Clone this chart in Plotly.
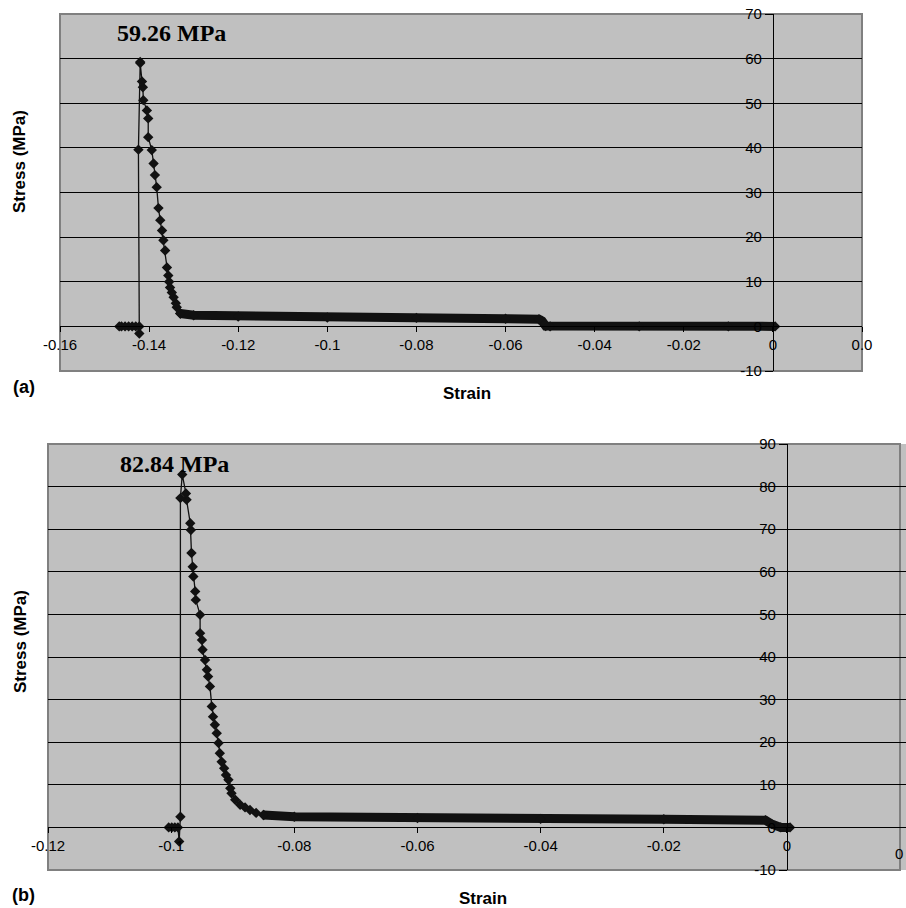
import plotly.graph_objects as go

W, H = 906, 908

# ---------------- data: panel (a) ----------------
a_band_strain = [0.0005, -0.0100, -0.0300, -0.0500, -0.0510, -0.0518, -0.0525,
                 -0.0600, -0.0800, -0.1000, -0.1200, -0.1300, -0.1330]
a_band_stress = [0.0, 0.0, 0.0, 0.0, 0.1, 1.2, 1.6,
                 1.7, 1.9, 2.0, 2.2, 2.5, 2.9]
a_rise_strain = [-0.1330, -0.1338, -0.1340, -0.1345, -0.1349, -0.1353, -0.1355, -0.1357,
                 -0.1360, -0.1364, -0.1368, -0.1371, -0.1375, -0.1379, -0.1383, -0.1387,
                 -0.1390, -0.1394, -0.1402, -0.1402, -0.1405, -0.1413, -0.1414, -0.1416,
                 -0.1420, -0.1420, -0.1424, -0.1422, -0.1422, -0.1430, -0.1438, -0.1446,
                 -0.1454, -0.1462, -0.1467]
a_rise_stress = [2.9, 4.3, 5.2, 6.5, 7.6, 8.7, 10.0, 11.4,
                 13.2, 17.0, 19.3, 21.5, 23.8, 26.5, 31.2, 33.9,
                 36.5, 39.5, 42.4, 46.6, 48.4, 50.7, 53.6, 54.9,
                 59.0, 59.26, 39.6, -1.6, 0.0, 0.0, 0.0, 0.0,
                 0.0, 0.0, 0.0]
a_peak = 59.26
a_peak_strain = -0.1420
a_xticks = [-0.16, -0.14, -0.12, -0.10, -0.08, -0.06, -0.04, -0.02, 0.0, 0.02]
a_xticktext = ["-0.16", "-0.14", "-0.12", "-0.1", "-0.08", "-0.06", "-0.04", "-0.02", "0", "0.0"]
a_yticks = [-10, 0, 10, 20, 30, 40, 50, 60, 70]
a_yticktext = ["-10", "0", "10", "20", "30", "40", "50", "60", "70"]

# ---------------- data: panel (b) ----------------
b_band_strain = [0.0005, -0.0010, -0.0025, -0.0035, -0.0200, -0.0400, -0.0600,
                 -0.0800, -0.0850]
b_band_stress = [0.0, 0.0, 0.8, 1.7, 1.9, 2.0, 2.2,
                 2.5, 2.9]
b_rise_strain = [-0.0850, -0.0862, -0.0872, -0.0880, -0.0888, -0.0896, -0.0902, -0.0904,
                 -0.0907, -0.0911, -0.0914, -0.0918, -0.0921, -0.0923, -0.0926, -0.0929,
                 -0.0932, -0.0934, -0.0937, -0.0940, -0.0942, -0.0945, -0.0949, -0.0950,
                 -0.0953, -0.0953, -0.0960, -0.0961, -0.0964, -0.0965, -0.0967, -0.0968,
                 -0.0969, -0.0975, -0.0976, -0.0982, -0.0985, -0.0985, -0.0987, -0.0989,
                 -0.0994, -0.0999, -0.1004]
b_rise_stress = [2.9, 3.4, 4.1, 4.7, 5.3, 6.5, 8.0, 9.2,
                 11.2, 12.3, 13.9, 15.4, 17.4, 19.8, 22.1, 24.1,
                 26.0, 28.4, 33.1, 35.4, 37.0, 39.3, 41.7, 44.0,
                 45.6, 49.9, 53.4, 55.4, 58.9, 61.2, 64.4, 69.8,
                 71.4, 76.9, 78.4, 82.84, 77.3, 2.5, -3.3, 0.0,
                 0.0, 0.0, 0.0]
b_peak = 82.84
b_peak_strain = -0.0982
b_xticks = [-0.12, -0.10, -0.08, -0.06, -0.04, -0.02, 0.0]
b_xticktext = ["-0.12", "-0.1", "-0.08", "-0.06", "-0.04", "-0.02", "0"]
b_yticks = [-10, 0, 10, 20, 30, 40, 50, 60, 70, 80, 90]
b_yticktext = ["-10", "0", "10", "20", "30", "40", "50", "60", "70", "80", "90"]

# ---------------- layout geometry ----------------
a_xdom = [60 / W, 862 / W]
a_ydom = [1 - 371 / H, 1 - 14 / H]
a_xr = [-0.16, 0.02]
a_yr = [-10, 70]

b_xdom = [48 / W, 1.0]
b_xr = [-0.12, -0.12 + (W - 48) / 6158.0]
b_ydom = [1 - 870 / H, 1 - 444 / H]
b_yr = [-10, 90]


def frac(dom, rng, v):
    return dom[0] + (v - rng[0]) / (rng[1] - rng[0]) * (dom[1] - dom[0])


SANS = "Liberation Sans, Arial, sans-serif"
SERIF = "Liberation Serif, Times New Roman, serif"
tickfont = dict(family=SANS, size=15, color="#000000")

fig = go.Figure()

for band_x, band_y, rise_x, rise_y, xa, ya in [
    (a_band_strain, a_band_stress, a_rise_strain, a_rise_stress, "x", "y"),
    (b_band_strain, b_band_stress, b_rise_strain, b_rise_stress, "x2", "y2"),
]:
    fig.add_trace(go.Scatter(
        x=band_x, y=band_y, mode="lines+markers", xaxis=xa, yaxis=ya,
        line=dict(color="#111111", width=9),
        marker=dict(symbol="diamond", size=8, color="#111111"),
        showlegend=False, hoverinfo="skip"))
    fig.add_trace(go.Scatter(
        x=rise_x, y=rise_y, mode="lines+markers", xaxis=xa, yaxis=ya,
        line=dict(color="#111111", width=1.3),
        marker=dict(symbol="diamond", size=8, color="#111111"),
        showlegend=False, hoverinfo="skip"))


def xaxis_cfg(dom, rng, ydom, yrng, tv, tt):
    return dict(domain=dom, range=rng, anchor="free", automargin=False,
                position=frac(ydom, yrng, 0),
                showline=True, linecolor="#000000", linewidth=1,
                ticks="outside", ticklen=5, tickcolor="#000000",
                tickvals=tv, ticktext=tt, tickfont=tickfont,
                showgrid=False, zeroline=False, fixedrange=True)


def yaxis_cfg(dom, rng, xdom, xrng, tv, tt):
    return dict(domain=dom, range=rng, anchor="free", automargin=False,
                position=frac(xdom, xrng, 0),
                showline=True, linecolor="#000000", linewidth=1,
                ticks="outside", ticklen=8, tickcolor="#000000",
                tickvals=tv, ticktext=tt, tickfont=tickfont,
                showgrid=True, gridcolor="#000000", gridwidth=1,
                zeroline=False, fixedrange=True)


fig.update_layout(
    width=W, height=H, autosize=False,
    margin=dict(l=0, r=0, t=0, b=0, pad=0, autoexpand=False),
    paper_bgcolor="#ffffff",
    plot_bgcolor="#c0c0c0",
    xaxis=xaxis_cfg(a_xdom, a_xr, a_ydom, a_yr, a_xticks, a_xticktext),
    yaxis=yaxis_cfg(a_ydom, a_yr, a_xdom, a_xr, a_yticks, a_yticktext),
    xaxis2=xaxis_cfg(b_xdom, b_xr, b_ydom, b_yr, b_xticks, b_xticktext),
    yaxis2=yaxis_cfg(b_ydom, b_yr, b_xdom, b_xr, b_yticks, b_yticktext),
)

# plot-area borders
fig.add_shape(type="rect", xref="x domain", yref="y domain", x0=0, x1=1, y0=0, y1=1,
              line=dict(color="#808080", width=2), layer="below")
fig.add_shape(type="rect", xref="x2 domain", yref="y2 domain", x0=0, x1=(900 - 48) / (W - 48),
              y0=0, y1=1, line=dict(color="#808080", width=2), layer="below")

ann = []
# peak labels
ann.append(dict(x=a_peak_strain, y=a_peak, xref="x", yref="y", text=f"<b>{a_peak:.2f} MPa</b>",
                showarrow=False, xshift=31, yshift=29,
                font=dict(family=SERIF, size=24, color="#000000")))
ann.append(dict(x=b_peak_strain, y=b_peak, xref="x2", yref="y2", text=f"<b>{b_peak:.2f} MPa</b>",
                showarrow=False, xshift=-8, yshift=11,
                font=dict(family=SERIF, size=24, color="#000000")))
# axis titles
for (xp, yp, txt, ang) in [
    (20, 162, "Stress (MPa)", -90),
    (20, 642, "Stress (MPa)", -90),
    (467, 393, "Strain", 0),
    (483, 898, "Strain", 0),
]:
    ann.append(dict(x=xp / W, y=1 - yp / H, xref="paper", yref="paper", text=f"<b>{txt}</b>",
                    showarrow=False, textangle=ang, xanchor="center", yanchor="middle",
                    font=dict(family=SANS, size=17, color="#000000")))
# panel letters
for (xp, yp, txt) in [(24, 387, "(a)"), (23, 895, "(b)")]:
    ann.append(dict(x=xp / W, y=1 - yp / H, xref="paper", yref="paper", text=f"<b>{txt}</b>",
                    showarrow=False, xanchor="center", yanchor="middle",
                    font=dict(family=SANS, size=18, color="#000000")))
# clipped 0.02 label on panel (b)
ann.append(dict(x=899 / W, y=1 - 853 / H, xref="paper", yref="paper", text="0",
                showarrow=False, xanchor="center", yanchor="middle", font=tickfont))
fig.update_layout(annotations=ann)

fig.write_html(
    "out.html",
    config={"displayModeBar": False, "staticPlot": True},
    post_script="document.body.style.margin='0px';document.body.style.overflow='hidden';",
)
